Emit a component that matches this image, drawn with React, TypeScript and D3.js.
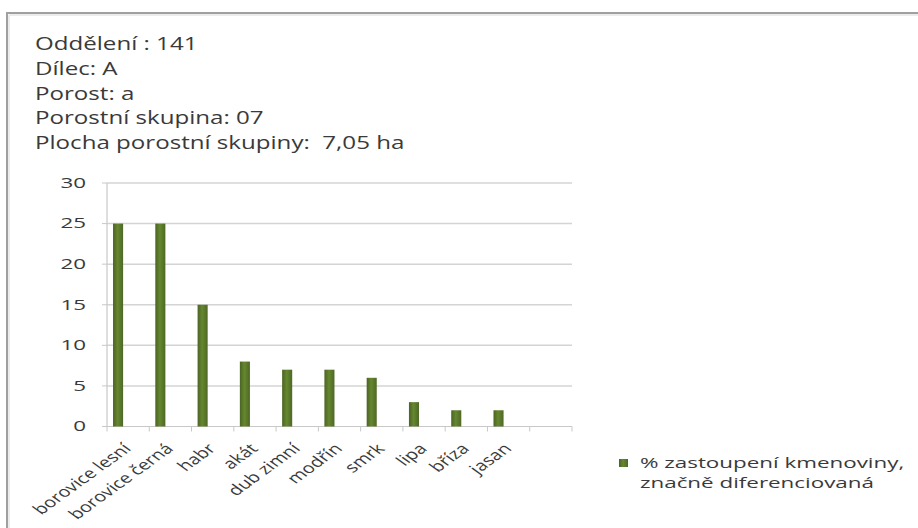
import React from "react";
import * as d3 from "d3";

const headerLines = [
  "Oddělení : 141",
  "Dílec: A",
  "Porost: a",
  "Porostní skupina: 07",
  "Plocha porostní skupiny:  7,05 ha",
];
const categories = [
  "borovice lesní",
  "borovice černá",
  "habr",
  "akát",
  "dub zimní",
  "modřín",
  "smrk",
  "lipa",
  "bříza",
  "jasan",
  "",
];
const values = [25, 25, 15, 8, 7, 7, 6, 3, 2, 2, null];
const yTicks = [0, 5, 10, 15, 20, 25, 30];
const seriesSlots = ["zastoupeni", "slot2", "slot3"];
const legendLines = ["% zastoupení kmenoviny,", "značně diferenciovaná"];

const W = 918;
const H = 528;
const plot = { left: 107, right: 572, top: 183, bottom: 426.5 };
const FONT = "'Open Sans', 'DejaVu Sans', sans-serif";
const TEXT = "#3a3a3a";

export default function App() {
  const x = d3
    .scaleBand<string>()
    .domain(categories.map((c, i) => String(i)))
    .range([plot.left, plot.right])
    .paddingInner(0)
    .paddingOuter(0);
  const step = x.step();
  const xs = d3
    .scaleBand<string>()
    .domain(seriesSlots)
    .range([0, step])
    .paddingInner(0)
    .paddingOuter(0.6);
  const y = d3.scaleLinear().domain([0, 30]).range([plot.bottom, plot.top]);
  const bw = xs.bandwidth();

  return (
    <div style={{ position: "fixed", left: 0, top: 0, width: W, height: H, background: "#fff" }}>
      <svg width={W} height={H} style={{ display: "block" }}>
        <defs>
          <linearGradient id="barGrad" x1="0" x2="1" y1="0" y2="0">
            <stop offset="0" stopColor="#4a6424" />
            <stop offset="0.45" stopColor="#66872f" />
            <stop offset="1" stopColor="#4d6826" />
          </linearGradient>
        </defs>
        <rect x={0} y={0} width={W} height={H} fill="#fff" />
        {/* frame */}
        <line x1={7} x2={W} y1={13} y2={13} stroke="#a0a0a0" strokeWidth={2} />
        <line x1={7} x2={7} y1={12} y2={H} stroke="#a0a0a0" strokeWidth={2} />
        <line x1={9} x2={W} y1={15} y2={15} stroke="#ececec" strokeWidth={2} />
        <line x1={9} x2={9} y1={15} y2={H} stroke="#ececec" strokeWidth={2} />

        {/* header */}
        <g fontFamily={FONT} fontSize={18} fill={TEXT}>
          {headerLines.map((t, i) => (
            <text
              key={i}
              transform={`translate(35,${50 + i * 24.8}) scale(1.34,1)`}
              style={{ whiteSpace: "pre" }}
            >
              {t}
            </text>
          ))}
        </g>

        {/* gridlines */}
        <g>
          {yTicks.map((t) => (
            <line
              key={t}
              x1={plot.left}
              x2={plot.right}
              y1={y(t)}
              y2={y(t)}
              stroke={t === 0 ? "#c8c8c8" : "#d4d4d4"}
              strokeWidth={t === 0 ? 1.2 : 1.5}
            />
          ))}
          <line x1={plot.left} x2={plot.left} y1={plot.top} y2={plot.bottom} stroke="#c8c8c8" strokeWidth={1.2} />
          {yTicks.map((t) => (
            <line key={"yt" + t} x1={plot.left - 5} x2={plot.left} y1={y(t)} y2={y(t)} stroke="#c8c8c8" />
          ))}
          {categories.map((c, i) => (
            <line
              key={"xt" + i}
              x1={(x(String(i)) as number) + step}
              x2={(x(String(i)) as number) + step}
              y1={plot.bottom}
              y2={plot.bottom + 5}
              stroke="#c8c8c8"
            />
          ))}
          <line x1={plot.left} x2={plot.left} y1={plot.bottom} y2={plot.bottom + 5} stroke="#c8c8c8" />
        </g>

        {/* y tick labels */}
        <g fontFamily={FONT} fontSize={14} fill={TEXT} textAnchor="end">
          {yTicks.map((t) => (
            <text key={t} transform={`translate(86,${y(t)}) scale(1.6,1)`} dy="0.35em">
              {t}
            </text>
          ))}
        </g>

        {/* bars */}
        <g>
          {values.map((v, i) =>
            v == null ? null : (
              <rect
                key={i}
                x={(x(String(i)) as number) + (xs(seriesSlots[0]) as number)}
                y={y(v)}
                width={bw}
                height={y(0) - y(v)}
                fill="url(#barGrad)"
              />
            )
          )}
        </g>

        {/* x labels */}
        <g fontFamily={FONT} fontSize={14.5} fill={TEXT} textAnchor="end">
          {categories.map((c, i) => {
            const cx = (x(String(i)) as number) + step / 2;
            return (
              <text
                key={i}
                transform={`translate(${cx + 4},${plot.bottom + 23}) scale(1.38,1) rotate(-45)`}
              >
                {c}
              </text>
            );
          })}
        </g>

        {/* legend */}
        <rect x={619} y={459} width={9} height={8} fill="url(#barGrad)" />
        <g fontFamily={FONT} fontSize={14} fill={TEXT}>
          {legendLines.map((t, i) => (
            <text key={i} transform={`translate(640,${468 + i * 20}) scale(1.6,1)`}>
              {t}
            </text>
          ))}
        </g>
      </svg>
    </div>
  );
}
